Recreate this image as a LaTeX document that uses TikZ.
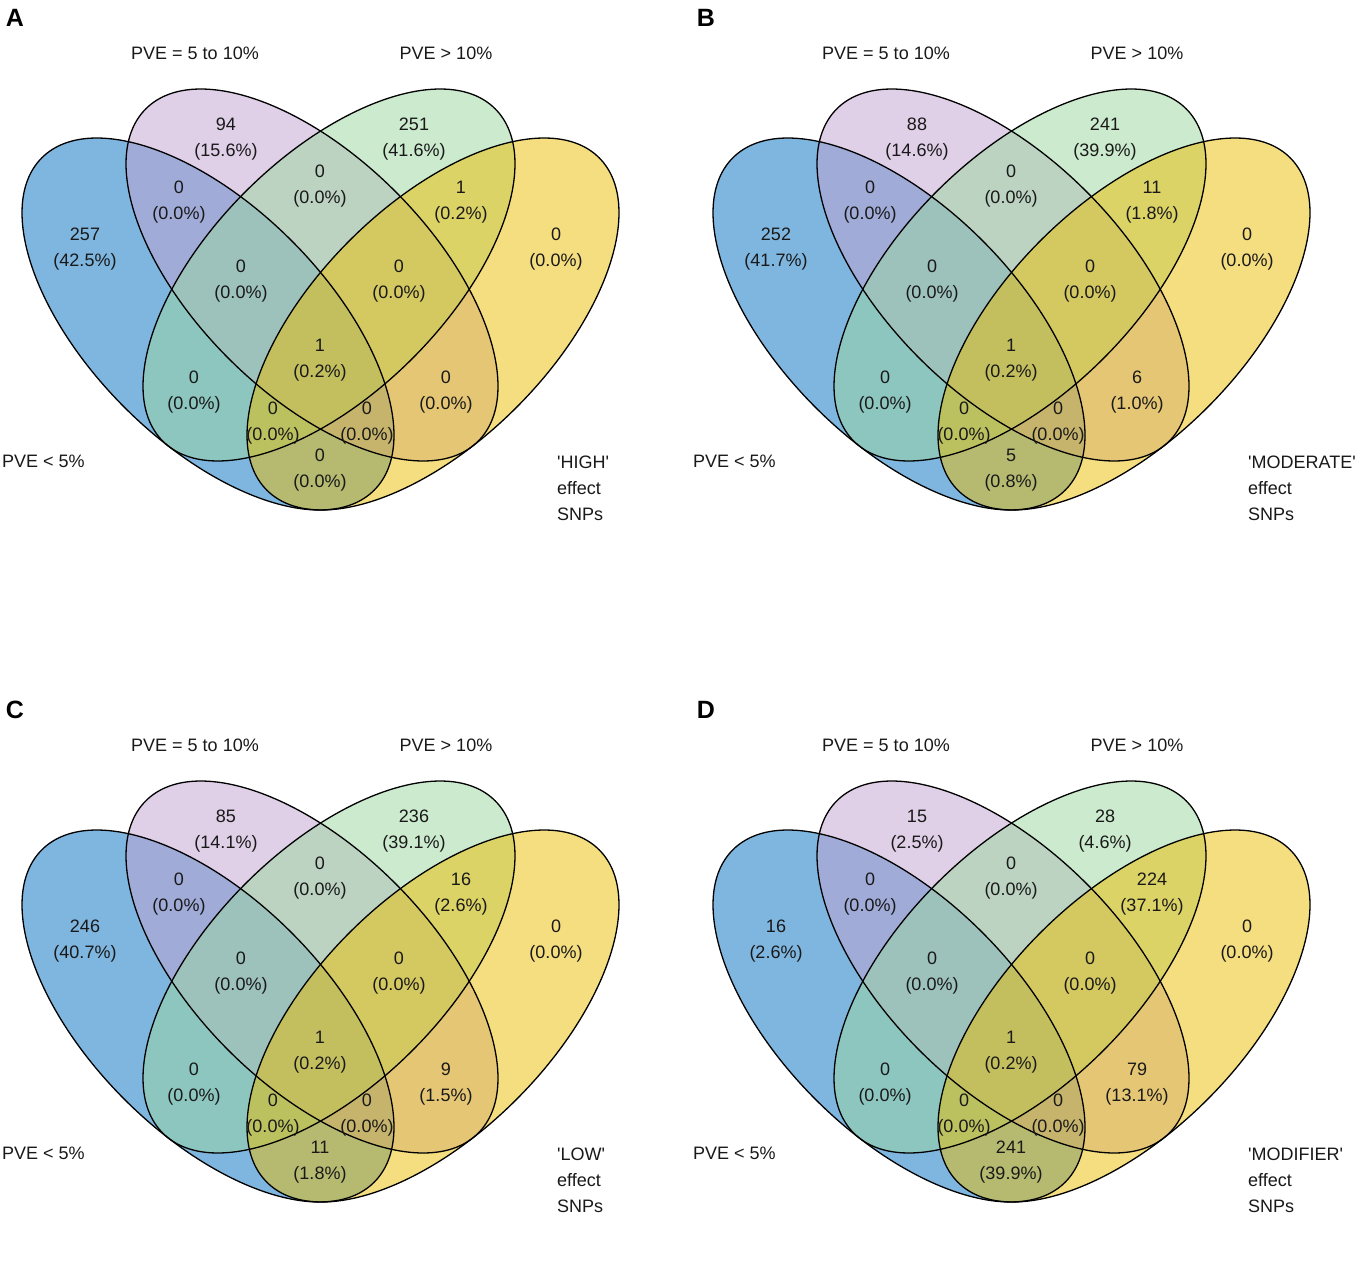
\documentclass[tikz,border=0pt]{standalone}
\usepackage{fontspec}
\setmainfont{Liberation Sans}[Ligatures=TeXOff]
\definecolor{vblue}{RGB}{0,110,194}
\definecolor{vpurple}{RGB}{193,161,209}
\definecolor{vgreen}{RGB}{155,215,159}
\definecolor{vyellow}{RGB}{236,190,2}
\newcommand\vennpanel[6]{%
\begin{scope}[shift={(#2,#3)}]
  \coordinate (#1c1) at (208,324);
  \coordinate (#1c2) at (312,275);
  \coordinate (#1c3) at (329,275);
  \coordinate (#1c4) at (433,324);
  \fill[vblue,vset,rotate around={-45:(#1c1)}] (#1c1) ellipse [x radius=235pt,y radius=118pt];
  \fill[vpurple,vset,rotate around={-45:(#1c2)}] (#1c2) ellipse [x radius=235pt,y radius=118pt];
  \fill[vgreen,vset,rotate around={45:(#1c3)}] (#1c3) ellipse [x radius=235pt,y radius=118pt];
  \fill[vyellow,vset,rotate around={45:(#1c4)}] (#1c4) ellipse [x radius=235pt,y radius=118pt];
  \draw[vline,rotate around={-45:(#1c1)}] (#1c1) ellipse [x radius=235pt,y radius=118pt];
  \draw[vline,rotate around={-45:(#1c2)}] (#1c2) ellipse [x radius=235pt,y radius=118pt];
  \draw[vline,rotate around={45:(#1c3)}] (#1c3) ellipse [x radius=235pt,y radius=118pt];
  \draw[vline,rotate around={45:(#1c4)}] (#1c4) ellipse [x radius=235pt,y radius=118pt];
  \foreach \xx/\yy [count=\i] in {85/249,226/139,414/139,556/249,179/202,320/186,461/202,241/281,399/281,320/360,194/392,446/392,273/423,367/423,320/470}
    \coordinate (#1r\i) at (\xx,\yy);
  \foreach \va/\vb [count=\i] in {#6}
    \node[lab] (#1v\i) at (#1r\i) {\va\\(\vb\%)};
  \node[letter] (#1let) at (15,18) {#4};
  \node[cat] (#1t2) at (195,53) {PVE = 5 to 10\%};
  \node[cat] (#1t3) at (446,53) {PVE > 10\%};
  \node[cat,anchor=west] (#1t1) at (2,461) {PVE < 5\%};
  \node[cat,anchor=west,align=left] (#1t4) at (557,488) {'#5'\\effect\\SNPs};
\end{scope}}
\begin{document}
\begin{tikzpicture}[x=1pt,y=-1pt,
  lab/.style={align=center,font=\fontsize{18}{26.5}\selectfont,inner sep=0pt,text=black!90},
  cat/.style={font=\fontsize{18}{26}\selectfont,inner sep=0pt,text=black!90},
  letter/.style={font=\fontsize{25}{30}\selectfont\bfseries,inner sep=0pt},
  vset/.style={fill opacity=0.5},
  vline/.style={draw=black,line width=1.3pt}]
\useasboundingbox[fill=white] (0,0) rectangle (1358,1287);
\vennpanel{a}{0}{0}{A}{HIGH}{257/42.5,94/15.6,251/41.6,0/0.0,0/0.0,0/0.0,1/0.2,0/0.0,0/0.0,1/0.2,0/0.0,0/0.0,0/0.0,0/0.0,0/0.0}
\vennpanel{b}{691}{0}{B}{MODERATE}{252/41.7,88/14.6,241/39.9,0/0.0,0/0.0,0/0.0,11/1.8,0/0.0,0/0.0,1/0.2,0/0.0,6/1.0,0/0.0,0/0.0,5/0.8}
\vennpanel{c}{0}{692}{C}{LOW}{246/40.7,85/14.1,236/39.1,0/0.0,0/0.0,0/0.0,16/2.6,0/0.0,0/0.0,1/0.2,0/0.0,9/1.5,0/0.0,0/0.0,11/1.8}
\vennpanel{d}{691}{692}{D}{MODIFIER}{16/2.6,15/2.5,28/4.6,0/0.0,0/0.0,0/0.0,224/37.1,0/0.0,0/0.0,1/0.2,0/0.0,79/13.1,0/0.0,0/0.0,241/39.9}
\end{tikzpicture}
\end{document}
